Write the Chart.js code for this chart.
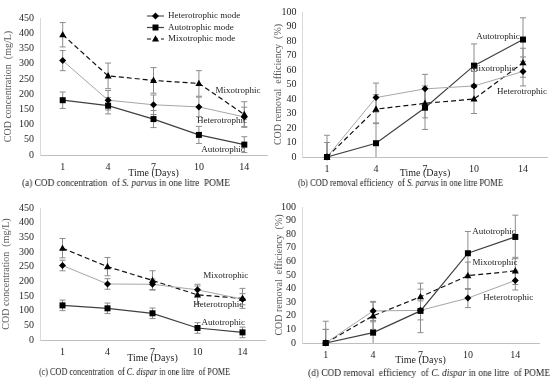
<!DOCTYPE html>
<html>
<head>
<meta charset="utf-8">
<script src="https://cdn.jsdelivr.net/npm/chart.js@4.4.1/dist/chart.umd.min.js"></script>
<style>
  body { margin: 0; background: #fff; width: 550px; height: 382px; position: relative; overflow: hidden; }
  canvas { position: absolute; }
  .cap { position: absolute; font-family: 'Liberation Serif', serif; font-size: 10px; color: #1a1a1a; white-space: nowrap; transform-origin: 0 0; will-change: transform; }
</style>
</head>
<body>
<canvas id="chartA" width="275" height="179" style="left:0;top:0"></canvas>
<canvas id="chartB" width="280" height="179" style="left:270px;top:0"></canvas>
<canvas id="chartC" width="275" height="172" style="left:0;top:192px"></canvas>
<canvas id="chartD" width="280" height="174" style="left:270px;top:192px"></canvas>

<div class="cap" data-x="22" data-w="208" style="top:177px">(a) COD concentration&nbsp; of <i>S. parvus</i> in one litre&nbsp; POME</div>
<div class="cap" data-x="298" data-w="205" style="top:177px">(b) COD removal efficiency&nbsp; of <i>S. parvus</i> in one litre POME</div>
<div class="cap" data-x="39" data-w="191" style="top:366px">(c) COD concentration&nbsp; of <i>C. dispar</i> in one litre&nbsp; of POME</div>
<div class="cap" data-x="308" data-w="242" style="top:367px">(d) COD removal&nbsp; efficiency&nbsp; of <i>C. dispar</i> in one litre&nbsp; of POME</div>

<script>
/********************** DATA ***********************/
const days = ['1', '4', '7', '10', '14'];
const seriesNames = ['Heterotrophic mode', 'Autotrophic mode', 'Mixotrophic mode'];

// (a) COD concentration, S. parvus (mg/L)
const hetA = [310, 180, 165, 158, 125];
const hetAErr = [33, 32, 32, 32, 32];
const autA = [180, 162, 118, 66, 34];
const autAErr = [27, 27, 28, 28, 26];
const mixA = [395, 260, 245, 235, 133];
const mixAErr = [40, 42, 42, 42, 42];

// (b) COD removal efficiency, S. parvus (%)
const hetB = [0, 41, 47, 49, 59];
const hetBErr = [10, 10, 10, 10, 10];
const autB = [0, 9.5, 34, 63, 81];
const autBErr = [15, 14, 15, 15, 15];
const mixB = [0, 33, 37, 40, 65];
const mixBErr = [10, 10, 10, 10, 10];

// (c) COD concentration, C. dispar (mg/L)
const hetC = [254, 191, 190, 171, 139];
const hetCErr = [18, 18, 18, 19, 19];
const autC = [118, 108, 91, 41, 26];
const autCErr = [18, 18, 18, 18, 18];
const mixC = [313, 250, 203, 154, 142];
const mixCErr = [33, 31, 33, 30, 34];

// (d) COD removal efficiency, C. dispar (%)
const hetD = [0, 23.6, 24, 33, 46];
const hetDErr = [10, 7, 7, 7, 7];
const autD = [0, 7.6, 23.6, 66, 78];
const autDErr = [16, 8, 16, 16, 16];
const mixD = [0, 20, 34, 49.5, 53];
const mixDErr = [10, 10, 10, 10, 10];

const concTicks = [0, 50, 100, 150, 200, 250, 300, 350, 400, 450];
const effTicks = [0, 10, 20, 30, 40, 50, 60, 70, 80, 90, 100];

/********************** STYLE **********************/
const FONT = "'Liberation Serif', 'Times New Roman', serif";
const styles = [
  { color: '#a6a6a6', width: 1, dash: [], marker: 'diamond' },
  { color: '#404040', width: 1.2, dash: [], marker: 'square' },
  { color: '#111111', width: 1.2, dash: [5, 3], marker: 'triangle' }
];

/******************** HELPERS **********************/
function drawMarker(ctx, kind, x, y) {
  ctx.save();
  ctx.fillStyle = '#000';
  ctx.beginPath();
  if (kind === 'square') {
    ctx.rect(x - 3, y - 3, 6, 6);
  } else if (kind === 'diamond') {
    ctx.moveTo(x, y - 3.5); ctx.lineTo(x + 3.5, y); ctx.lineTo(x, y + 3.5); ctx.lineTo(x - 3.5, y);
  } else {
    ctx.moveTo(x, y - 3.8); ctx.lineTo(x + 3.5, y + 2.6); ctx.lineTo(x - 3.5, y + 2.6);
  }
  ctx.closePath();
  ctx.fill();
  ctx.restore();
}

// squeeze each caption to the width it has in the figure
function fitCaptions() {
  document.querySelectorAll('.cap').forEach(el => {
    el.style.left = el.dataset.x + 'px';
    const w = el.getBoundingClientRect().width;
    if (w > 0) el.style.transform = 'scaleX(' + (+el.dataset.w / w).toFixed(3) + ')';
  });
}

// error bars, drawn under the lines
const errorBarPlugin = {
  id: 'errorBars',
  beforeDatasetsDraw(chart) {
    const ctx = chart.ctx;
    const y = chart.scales.y;
    const area = chart.chartArea;
    ctx.save();
    ctx.beginPath();
    ctx.rect(area.left, area.top - 2, area.right - area.left, area.bottom - area.top + 2);
    ctx.clip();
    ctx.strokeStyle = '#8c8c8c';
    ctx.lineWidth = 1;
    chart.data.datasets.forEach((ds, di) => {
      const meta = chart.getDatasetMeta(di);
      ds.errors.forEach((e, i) => {
        const px = meta.data[i].x;
        const top = y.getPixelForValue(ds.data[i] + e);
        const bot = y.getPixelForValue(ds.data[i] - e);
        ctx.beginPath();
        ctx.moveTo(px, top); ctx.lineTo(px, bot);
        ctx.moveTo(px - 3, top); ctx.lineTo(px + 3, top);
        ctx.moveTo(px - 3, bot); ctx.lineTo(px + 3, bot);
        ctx.stroke();
      });
    });
    ctx.restore();
  },
  afterDatasetsDraw(chart) {
    const ctx = chart.ctx;
    chart.data.datasets.forEach((ds, di) => {
      const meta = chart.getDatasetMeta(di);
      meta.data.forEach(pt => drawMarker(ctx, styles[di].marker, pt.x, pt.y));
    });
  }
};

// series names written next to the curves
const notesPlugin = {
  id: 'notes',
  afterDraw(chart, args, opts) {
    if (!opts.items) return;
    const ctx = chart.ctx;
    ctx.save();
    ctx.font = '9px ' + FONT;
    ctx.fillStyle = '#222';
    ctx.textAlign = 'center';
    ctx.textBaseline = 'middle';
    opts.items.forEach(n => {
      ctx.fillText(n.text, chart.scales.x.getPixelForValue(n.x), chart.scales.y.getPixelForValue(n.y));
    });
    ctx.restore();
  }
};

// legend of panel (a): line sample with marker
const legendPlugin = {
  id: 'lineLegend',
  afterDraw(chart, args, opts) {
    if (!opts.show) return;
    const ctx = chart.ctx;
    ctx.save();
    ctx.font = '9px ' + FONT;
    ctx.fillStyle = '#222';
    ctx.textBaseline = 'middle';
    seriesNames.forEach((name, i) => {
      const s = styles[i];
      const yy = opts.top + i * 11.5;
      ctx.strokeStyle = s.color === '#a6a6a6' ? '#555' : s.color;
      ctx.lineWidth = 1.2;
      ctx.setLineDash(s.dash.length ? [4, 3] : []);
      ctx.beginPath();
      ctx.moveTo(opts.left, yy); ctx.lineTo(opts.left + 17, yy);
      ctx.stroke();
      ctx.setLineDash([]);
      drawMarker(ctx, s.marker, opts.left + 8.5, yy);
      ctx.fillText(name, opts.left + 21, yy);
    });
    ctx.restore();
  }
};

/******************** CHART BUILDER ****************/
function makeChart(id, het, aut, mix, errs, ticks, yTitle, layout, notes, legend) {
  const values = [het, aut, mix];
  return new Chart(document.getElementById(id), {
    type: 'line',
    data: {
      labels: days,
      datasets: values.map((v, i) => ({
        label: seriesNames[i],
        data: v,
        errors: errs[i],
        borderColor: styles[i].color,
        borderWidth: styles[i].width,
        borderDash: styles[i].dash,
        pointRadius: 0,
        tension: 0,
        fill: false
      }))
    },
    options: {
      responsive: false,
      animation: false,
      devicePixelRatio: 1,
      layout: { padding: { left: 0, top: layout.top, right: layout.right, bottom: 0 } },
      plugins: {
        legend: { display: false },
        tooltip: { enabled: false },
        notes: { items: notes },
        lineLegend: legend || { show: false }
      },
      scales: {
        x: {
          type: 'category',
          offset: true,
          grid: { display: false, drawTicks: false },
          border: { display: true, color: '#bfbfbf', width: 1 },
          ticks: { color: '#262626', padding: 6, autoSkip: false, maxRotation: 0, font: { family: FONT, size: 10 } },
          title: { display: true, text: 'Time (Days)', color: '#262626', padding: { top: 0, bottom: 0 }, font: { family: FONT, size: 10 } },
          afterFit: s => { s.height = layout.xh; }
        },
        y: {
          min: 0,
          max: ticks[ticks.length - 1],
          afterBuildTicks: s => { s.ticks = ticks.map(v => ({ value: v })); },
          grid: { display: false, drawTicks: false },
          border: { display: true, color: '#d9d9d9', width: 1 },
          ticks: { color: '#262626', padding: 6, autoSkip: false, font: { family: FONT, size: 10 } },
          title: { display: true, text: yTitle, color: '#595959', padding: { top: layout.tpad, bottom: 0 }, font: { family: FONT, size: 10 } },
          afterFit: s => { s.width = layout.left; }
        }
      }
    },
    plugins: [errorBarPlugin, notesPlugin, legendPlugin]
  });
}

/************************ INIT *********************/
fitCaptions();

makeChart('chartA', hetA, autA, mixA, [hetAErr, autAErr, mixAErr], concTicks,
  'COD concentration  (mg/L)',
  { left: 40, top: 18, right: 8, xh: 24, tpad: 2 },
  [
    { text: 'Mixotrophic', x: 3.86, y: 213 },
    { text: 'Heterotrophic', x: 3.51, y: 112 },
    { text: 'Autotrophic', x: 3.53, y: 16 }
  ],
  { show: true, left: 147, top: 16 });

makeChart('chartB', hetB, autB, mixB, [hetBErr, autBErr, mixBErr], effTicks,
  'COD removal  efficiency  (%)',
  { left: 32.5, top: 7, right: 2.5, xh: 22, tpad: 2 },
  [
    { text: 'Autotrophic', x: 3.49, y: 83 },
    { text: 'Mixotrophic', x: 3.39, y: 61 },
    { text: 'Heterotrophic', x: 3.98, y: 45 }
  ]);

makeChart('chartC', hetC, autC, mixC, [hetCErr, autCErr, mixCErr], concTicks,
  'COD concentration  (mg/L)',
  { left: 40, top: 16, right: 10, xh: 24, tpad: 0 },
  [
    { text: 'Mixotrophic', x: 3.63, y: 218 },
    { text: 'Heterotrophic', x: 3.46, y: 119 },
    { text: 'Autotrophic', x: 3.57, y: 58 }
  ]);

makeChart('chartD', hetD, autD, mixD, [hetDErr, autDErr, mixDErr], effTicks,
  'COD removal  efficiency  (%)',
  { left: 32, top: 15, right: 11, xh: 23, tpad: 3 },
  [
    { text: 'Autotrophic', x: 3.55, y: 81.6 },
    { text: 'Mixotrophic', x: 3.57, y: 58.8 },
    { text: 'Heterotrophic', x: 3.85, y: 33 }
  ]);
</script>
</body>
</html>
